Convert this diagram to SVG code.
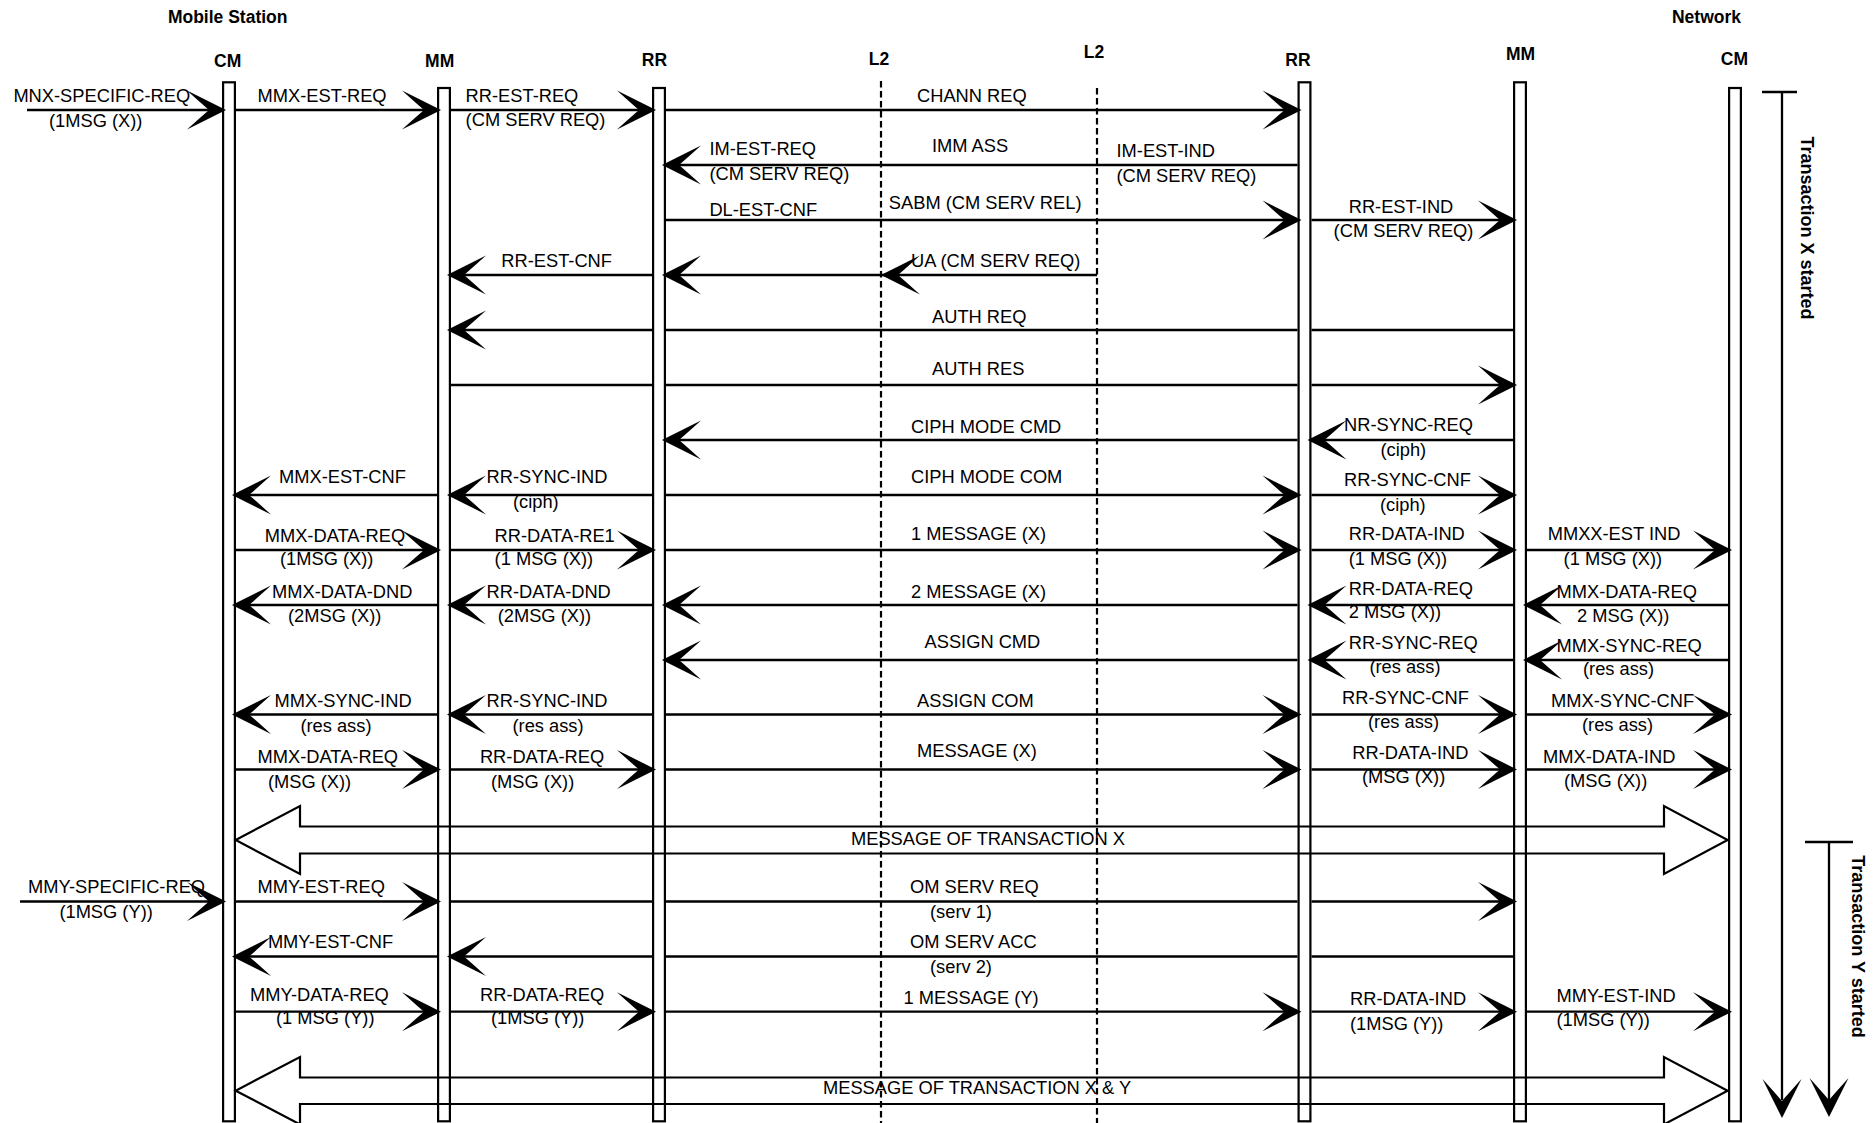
<svg xmlns="http://www.w3.org/2000/svg" xmlns:xlink="http://www.w3.org/1999/xlink" width="1874" height="1123" viewBox="0 0 1874 1123">
<style>
text{font-family:"Liberation Sans",Arial,sans-serif;fill:#000}
.h{font-weight:bold;font-size:17.5px;text-anchor:middle}
.t{font-weight:bold;font-size:18px;text-anchor:middle}
.m{font-size:18.3px}
.bar{fill:#fff;stroke:#000;stroke-width:2.2}
.dash{stroke:#000;stroke-width:2.2;stroke-dasharray:6.5 3.5;fill:none}
.ln{stroke:#000;stroke-width:2.3;fill:none}
.big{stroke:#000;stroke-width:2.2;fill:none}
</style>
<defs>
<path id="ah" d="M0,0 L-39,-19.5 Q-24,-6 -17,0 Q-24,6 -39,19.5 Z" fill="#000"/>
</defs>
<rect width="1874" height="1123" fill="#fff"/>

<g id="headers">
<text class="h" x="227.7" y="22.7">Mobile Station</text>
<text class="h" x="1706.5" y="22.7">Network</text>
</g>

<g id="ms-cm"><text class="h" x="227.7" y="66.7">CM</text><rect class="bar" x="223.1" y="82.3" width="11.8" height="1039"/></g>
<g id="ms-mm"><text class="h" x="439.7" y="66.7">MM</text><rect class="bar" x="438.1" y="88" width="11.8" height="1033.3"/></g>
<g id="ms-rr"><text class="h" x="654.4" y="66">RR</text><rect class="bar" x="653.1" y="88" width="11.8" height="1033.3"/></g>
<g id="l2-left"><text class="h" x="879" y="65">L2</text><line class="dash" x1="881" y1="81" x2="881" y2="1123"/></g>
<g id="l2-right"><text class="h" x="1094" y="58.3">L2</text><line class="dash" x1="1097" y1="88" x2="1097" y2="1123"/></g>
<g id="nw-rr"><text class="h" x="1298" y="65.7">RR</text><rect class="bar" x="1298.6" y="82.3" width="11.8" height="1039"/></g>
<g id="nw-mm"><text class="h" x="1520.6" y="60">MM</text><rect class="bar" x="1514.1" y="82.3" width="11.8" height="1039"/></g>
<g id="nw-cm"><text class="h" x="1734.4" y="65">CM</text><rect class="bar" x="1729.1" y="88" width="11.8" height="1033.3"/></g>

<g id="transaction-x">
<line class="ln" x1="1762" y1="92" x2="1797" y2="92"/>
<line class="ln" x1="1782" y1="92" x2="1782" y2="1100"/>
<use xlink:href="#ah" href="#ah" transform="translate(1782,1118) rotate(90)"/>
<text class="t" transform="translate(1801,228) rotate(90)">Transaction X started</text>
</g>
<g id="transaction-y">
<line class="ln" x1="1805" y1="842" x2="1853" y2="842"/>
<line class="ln" x1="1829" y1="842" x2="1829" y2="1100"/>
<use xlink:href="#ah" href="#ah" transform="translate(1829,1117) rotate(90)"/>
<text class="t" transform="translate(1852,946.5) rotate(90)">Transaction Y started</text>
</g>

<g id="connectors">
<!-- R1 y=110 -->
<path class="ln" d="M27,110H222 M236,110H437 M451,110H652 M666,110H1297.5"/>
<use href="#ah" transform="translate(226,110)"/>
<use href="#ah" transform="translate(441,110)"/>
<use href="#ah" transform="translate(656,110)"/>
<use href="#ah" transform="translate(1301.5,110)"/>
<!-- R2 y=165 -->
<path class="ln" d="M666,165H1297.5"/>
<use href="#ah" transform="translate(662,165) scale(-1,1)"/>
<!-- R3 y=220 -->
<path class="ln" d="M666,220H1297.5 M1311.5,220H1513"/>
<use href="#ah" transform="translate(1301.5,220)"/>
<use href="#ah" transform="translate(1517,220)"/>
<!-- R4 y=275 -->
<path class="ln" d="M451,275H652 M666,275H1097"/>
<use href="#ah" transform="translate(447,275) scale(-1,1)"/>
<use href="#ah" transform="translate(662,275) scale(-1,1)"/>
<use href="#ah" transform="translate(881,275) scale(-1,1)"/>
<!-- R5 y=330 -->
<path class="ln" d="M451,330H652 M666,330H1297.5 M1311.5,330H1513"/>
<use href="#ah" transform="translate(447,330) scale(-1,1)"/>
<!-- R6 y=385 -->
<path class="ln" d="M451,385H652 M666,385H1297.5 M1311.5,385H1513"/>
<use href="#ah" transform="translate(1517,385)"/>
<!-- R7 y=440 -->
<path class="ln" d="M666,440H1297.5 M1311.5,440H1513"/>
<use href="#ah" transform="translate(662,440) scale(-1,1)"/>
<use href="#ah" transform="translate(1307.5,440) scale(-1,1)"/>
<!-- R8 y=495 -->
<path class="ln" d="M236,495H437 M451,495H652 M666,495H1297.5 M1311.5,495H1513"/>
<use href="#ah" transform="translate(232,495) scale(-1,1)"/>
<use href="#ah" transform="translate(447,495) scale(-1,1)"/>
<use href="#ah" transform="translate(1301.5,495)"/>
<use href="#ah" transform="translate(1517,495)"/>
<!-- R9 y=550 -->
<path class="ln" d="M236,550H437 M451,550H652 M666,550H1297.5 M1311.5,550H1513 M1527,550H1728"/>
<use href="#ah" transform="translate(441,550)"/>
<use href="#ah" transform="translate(656,550)"/>
<use href="#ah" transform="translate(1301.5,550)"/>
<use href="#ah" transform="translate(1517,550)"/>
<use href="#ah" transform="translate(1732,550)"/>
<!-- R10 y=605 -->
<path class="ln" d="M236,605H437 M451,605H652 M666,605H1297.5 M1311.5,605H1513 M1527,605H1728"/>
<use href="#ah" transform="translate(232,605) scale(-1,1)"/>
<use href="#ah" transform="translate(447,605) scale(-1,1)"/>
<use href="#ah" transform="translate(662,605) scale(-1,1)"/>
<use href="#ah" transform="translate(1307.5,605) scale(-1,1)"/>
<use href="#ah" transform="translate(1523,605) scale(-1,1)"/>
<!-- R11 y=660 -->
<path class="ln" d="M666,660H1297.5 M1311.5,660H1513 M1527,660H1728"/>
<use href="#ah" transform="translate(662,660) scale(-1,1)"/>
<use href="#ah" transform="translate(1307.5,660) scale(-1,1)"/>
<use href="#ah" transform="translate(1523,660) scale(-1,1)"/>
<!-- R12 y=714.5 -->
<path class="ln" d="M236,714.5H437 M451,714.5H652 M666,714.5H1297.5 M1311.5,714.5H1513 M1527,714.5H1728"/>
<use href="#ah" transform="translate(232,714.5) scale(-1,1)"/>
<use href="#ah" transform="translate(447,714.5) scale(-1,1)"/>
<use href="#ah" transform="translate(1301.5,714.5)"/>
<use href="#ah" transform="translate(1517,714.5)"/>
<use href="#ah" transform="translate(1732,714.5)"/>
<!-- R13 y=769.5 -->
<path class="ln" d="M236,769.5H437 M451,769.5H652 M666,769.5H1297.5 M1311.5,769.5H1513 M1527,769.5H1728"/>
<use href="#ah" transform="translate(441,769.5)"/>
<use href="#ah" transform="translate(656,769.5)"/>
<use href="#ah" transform="translate(1301.5,769.5)"/>
<use href="#ah" transform="translate(1517,769.5)"/>
<use href="#ah" transform="translate(1732,769.5)"/>
<!-- R14 big arrow -->
<path class="big" d="M235.7,840 L300,806 L300,826.5 L1664,826.5 L1664,806 L1727.6,840 L1664,874 L1664,853.5 L300,853.5 L300,874 Z"/>
<!-- R15 y=901.5 -->
<path class="ln" d="M20,901.5H222 M236,901.5H437 M451,901.5H652 M666,901.5H1297.5 M1311.5,901.5H1513"/>
<use href="#ah" transform="translate(226,901.5)"/>
<use href="#ah" transform="translate(441,901.5)"/>
<use href="#ah" transform="translate(1517,901.5)"/>
<!-- R16 y=956.5 -->
<path class="ln" d="M236,956.5H437 M451,956.5H652 M666,956.5H1297.5 M1311.5,956.5H1513"/>
<use href="#ah" transform="translate(232,956.5) scale(-1,1)"/>
<use href="#ah" transform="translate(447,956.5) scale(-1,1)"/>
<!-- R17 y=1011.7 -->
<path class="ln" d="M236,1011.7H437 M451,1011.7H652 M666,1011.7H1297.5 M1311.5,1011.7H1513 M1527,1011.7H1728"/>
<use href="#ah" transform="translate(441,1011.7)"/>
<use href="#ah" transform="translate(656,1011.7)"/>
<use href="#ah" transform="translate(1301.5,1011.7)"/>
<use href="#ah" transform="translate(1517,1011.7)"/>
<use href="#ah" transform="translate(1732,1011.7)"/>
<!-- R18 big arrow -->
<path class="big" d="M235.7,1090.7 L300,1057 L300,1077.5 L1664,1077.5 L1664,1057 L1727.6,1090.7 L1664,1124.4 L1664,1104 L300,1104 L300,1124.4 Z"/>
</g>

<g id="labels" class="m">
<text class="m" x="13.4" y="101.7">MNX-SPECIFIC-REQ</text>
<text class="m" x="49" y="126.7">(1MSG (X))</text>
<text class="m" x="257.6" y="101.7">MMX-EST-REQ</text>
<text class="m" x="465.6" y="101.7">RR-EST-REQ</text>
<text class="m" x="465.6" y="126">(CM SERV REQ)</text>
<text class="m" x="917" y="101.7">CHANN REQ</text>

<text class="m" x="709.4" y="155">IM-EST-REQ</text>
<text class="m" x="709.4" y="180">(CM SERV REQ)</text>
<text class="m" x="932" y="151.7">IMM ASS</text>
<text class="m" x="1116.5" y="157.3">IM-EST-IND</text>
<text class="m" x="1116.5" y="181.7">(CM SERV REQ)</text>

<text class="m" x="709.4" y="216">DL-EST-CNF</text>
<text class="m" x="888.8" y="209.3">SABM (CM SERV REL)</text>
<text class="m" x="1348.7" y="212.7">RR-EST-IND</text>
<text class="m" x="1333.6" y="236.7">(CM SERV REQ)</text>

<text class="m" x="501.3" y="266.7">RR-EST-CNF</text>
<text class="m" x="911" y="266.7">UA (CM SERV REQ)</text>

<text class="m" x="932" y="323.3">AUTH REQ</text>
<text class="m" x="932" y="375">AUTH RES</text>

<text class="m" x="911" y="432.7">CIPH MODE CMD</text>
<text class="m" x="1344" y="431">NR-SYNC-REQ</text>
<text class="m" x="1380.5" y="456">(ciph)</text>

<text class="m" x="279" y="483">MMX-EST-CNF</text>
<text class="m" x="486.6" y="483">RR-SYNC-IND</text>
<text class="m" x="513" y="508">(ciph)</text>
<text class="m" x="911" y="483">CIPH MODE COM</text>
<text class="m" x="1344" y="486">RR-SYNC-CNF</text>
<text class="m" x="1380" y="511">(ciph)</text>

<text class="m" x="264.7" y="541.7">MMX-DATA-REQ</text>
<text class="m" x="280" y="565">(1MSG (X))</text>
<text class="m" x="494.6" y="541.7">RR-DATA-RE1</text>
<text class="m" x="494.6" y="565">(1 MSG (X))</text>
<text class="m" x="911" y="540">1 MESSAGE (X)</text>
<text class="m" x="1348.7" y="540">RR-DATA-IND</text>
<text class="m" x="1348.7" y="565">(1 MSG (X))</text>
<text class="m" x="1547.7" y="540">MMXX-EST IND</text>
<text class="m" x="1563.6" y="565">(1 MSG (X))</text>

<text class="m" x="272" y="598.3">MMX-DATA-DND</text>
<text class="m" x="288" y="621.7">(2MSG (X))</text>
<text class="m" x="486.6" y="598.3">RR-DATA-DND</text>
<text class="m" x="497.7" y="621.7">(2MSG (X))</text>
<text class="m" x="911" y="598.3">2 MESSAGE (X)</text>
<text class="m" x="1348.7" y="595">RR-DATA-REQ</text>
<text class="m" x="1348.7" y="618.3">2 MSG (X))</text>
<text class="m" x="1556.5" y="598.3">MMX-DATA-REQ</text>
<text class="m" x="1577" y="621.7">2 MSG (X))</text>

<text class="m" x="924.5" y="648.3">ASSIGN CMD</text>
<text class="m" x="1348.7" y="649.3">RR-SYNC-REQ</text>
<text class="m" x="1369.4" y="673.3">(res ass)</text>
<text class="m" x="1556.5" y="651.7">MMX-SYNC-REQ</text>
<text class="m" x="1583" y="675">(res ass)</text>

<text class="m" x="274.5" y="706.7">MMX-SYNC-IND</text>
<text class="m" x="300.4" y="731.7">(res ass)</text>
<text class="m" x="486.6" y="706.7">RR-SYNC-IND</text>
<text class="m" x="512.5" y="731.7">(res ass)</text>
<text class="m" x="917" y="706.7">ASSIGN COM</text>
<text class="m" x="1342" y="704">RR-SYNC-CNF</text>
<text class="m" x="1368" y="728.3">(res ass)</text>
<text class="m" x="1551" y="706.7">MMX-SYNC-CNF</text>
<text class="m" x="1582" y="730.7">(res ass)</text>

<text class="m" x="257.6" y="763.3">MMX-DATA-REQ</text>
<text class="m" x="267.9" y="787.7">(MSG (X))</text>
<text class="m" x="479.9" y="763.3">RR-DATA-REQ</text>
<text class="m" x="491" y="787.7">(MSG (X))</text>
<text class="m" x="917" y="756.7">MESSAGE (X)</text>
<text class="m" x="1352.3" y="759.3">RR-DATA-IND</text>
<text class="m" x="1362" y="783.3">(MSG (X))</text>
<text class="m" x="1543" y="763.3">MMX-DATA-IND</text>
<text class="m" x="1564" y="786.7">(MSG (X))</text>

<text class="m" x="851" y="845">MESSAGE OF TRANSACTION X</text>

<text class="m" x="28" y="893.3">MMY-SPECIFIC-REQ</text>
<text class="m" x="59.4" y="918.3">(1MSG (Y))</text>
<text class="m" x="257.6" y="893.3">MMY-EST-REQ</text>
<text class="m" x="910" y="893.3">OM SERV REQ</text>
<text class="m" x="930" y="918.3">(serv 1)</text>

<text class="m" x="267.9" y="947.7">MMY-EST-CNF</text>
<text class="m" x="910" y="947.7">OM SERV ACC</text>
<text class="m" x="930" y="972.7">(serv 2)</text>

<text class="m" x="250" y="1001">MMY-DATA-REQ</text>
<text class="m" x="276" y="1024.3">(1 MSG (Y))</text>
<text class="m" x="480" y="1001">RR-DATA-REQ</text>
<text class="m" x="491" y="1024.3">(1MSG (Y))</text>
<text class="m" x="903.6" y="1004.3">1 MESSAGE (Y)</text>
<text class="m" x="1350" y="1005">RR-DATA-IND</text>
<text class="m" x="1350" y="1030">(1MSG (Y))</text>
<text class="m" x="1556.5" y="1001.7">MMY-EST-IND</text>
<text class="m" x="1556.5" y="1026">(1MSG (Y))</text>

<text class="m" x="823" y="1094">MESSAGE OF TRANSACTION X &amp; Y</text>
</g>
</svg>
